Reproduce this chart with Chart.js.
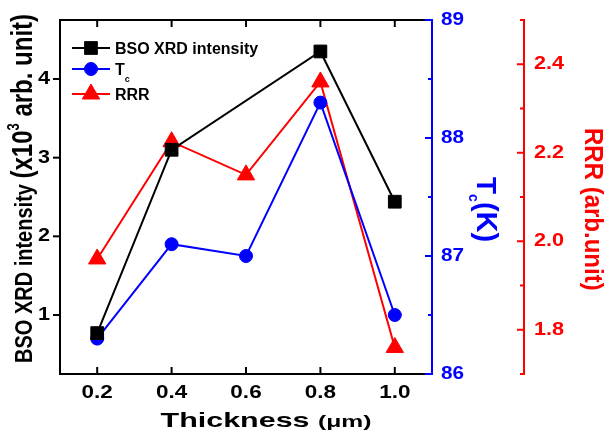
<!DOCTYPE html>
<html>
<head>
<meta charset="utf-8">
<script src="https://cdn.jsdelivr.net/npm/chart.js@4.4.0/dist/chart.umd.min.js"></script>
<style>
  html, body { margin: 0; padding: 0; background: #fff; }
</style>
</head>
<body>
<canvas id="myChart" width="609" height="436"></canvas>
<script>
// film thickness (um) and the three measured series
const thickness = [0.2, 0.4, 0.6, 0.8, 1.0];
const bsoIntensity = [0.77, 3.1, null, 4.35, 2.44];
const tcValues = [86.3, 87.1, 87.0, 88.3, 86.5];
const rrrValues = [1.96, 2.225, 2.15, 2.36, 1.76];

// tick values
const xTicks = [0.2, 0.4, 0.6, 0.8, 1.0];
const leftTicks = [1, 2, 3, 4];
const tcTicks = [86, 87, 88, 89];
const tcMinor = [86.5, 87.5, 88.5];
const rrrTicks = [1.8, 2.0, 2.2, 2.4];
const rrrMinor = [1.7, 1.9, 2.1, 2.3, 2.5];

const BLUE = "#0000ff";
const RED = "#ff0000";
const FONT = "'Liberation Sans', Arial, sans-serif";

function pts(ys) {
  return thickness.map((x, i) => ({ x: x, y: ys[i] }));
}

// draw a run of text pieces (for sub/superscripts), optionally rotated and stretched
function richText(ctx, parts, x, y, rot, sx, color, align) {
  ctx.save();
  ctx.translate(x, y);
  ctx.scale(sx, 1);
  ctx.rotate(rot);
  ctx.fillStyle = color;
  ctx.textBaseline = "alphabetic";
  ctx.textAlign = "left";
  let total = 0;
  parts.forEach(p => {
    ctx.font = "bold " + p.size + "px " + FONT;
    total += ctx.measureText(p.t).width;
  });
  let cx = 0;
  if (align === "center") cx = -total / 2;
  if (align === "right") cx = -total;
  parts.forEach(p => {
    ctx.font = "bold " + p.size + "px " + FONT;
    ctx.fillText(p.t, cx, p.dy || 0);
    cx += ctx.measureText(p.t).width;
  });
  ctx.restore();
}

function label(ctx, s, x, y, size, color, align, sx) {
  ctx.save();
  ctx.translate(x, y);
  ctx.scale(sx, 1);
  ctx.font = "bold " + size + "px " + FONT;
  ctx.fillStyle = color;
  ctx.textAlign = align;
  ctx.textBaseline = "middle";
  ctx.fillText(s, 0, 0);
  ctx.restore();
}

function line(ctx, x1, y1, x2, y2, color, w) {
  ctx.beginPath();
  ctx.strokeStyle = color;
  ctx.lineWidth = w;
  ctx.moveTo(x1, y1);
  ctx.lineTo(x2, y2);
  ctx.stroke();
}

const axesPlugin = {
  id: "axesPlugin",
  afterDraw(chart) {
    const ctx = chart.ctx;
    const a = chart.chartArea;
    const sx = chart.scales.x, sy = chart.scales.y, st = chart.scales.yTc, sr = chart.scales.yRRR;
    ctx.save();
    ctx.lineCap = "butt";

    // frame
    line(ctx, a.left, a.top, a.right, a.top, "#000", 2);
    line(ctx, a.left, a.bottom, a.right, a.bottom, "#000", 2);
    line(ctx, a.left, a.top - 1, a.left, a.bottom + 1, "#000", 2);
    line(ctx, a.right, a.top - 1, a.right, a.bottom + 1, BLUE, 2);

    // x ticks (top + bottom, inward) and labels
    xTicks.forEach(v => {
      const px = sx.getPixelForValue(v);
      line(ctx, px, a.bottom, px, a.bottom - 7, "#000", 2);
      line(ctx, px, a.top, px, a.top + 7, "#000", 2);
      label(ctx, v.toFixed(1), px, 393, 18, "#000", "center", 1.25);
    });

    // left ticks (outward)
    leftTicks.forEach(v => {
      const py = sy.getPixelForValue(v);
      line(ctx, a.left, py, a.left - 7, py, "#000", 2);
      label(ctx, String(v), 50, py, 18, "#000", "right", 1.2);
    });

    // Tc axis ticks (inward)
    tcTicks.forEach(v => {
      const py = st.getPixelForValue(v);
      line(ctx, a.right, py, a.right - 7, py, BLUE, 2);
      label(ctx, String(v), 441, py, 18, BLUE, "left", 1.15);
    });
    tcMinor.forEach(v => {
      const py = st.getPixelForValue(v);
      line(ctx, a.right, py, a.right - 4, py, BLUE, 2);
    });

    // RRR offset axis
    const rx = 524;
    line(ctx, rx, a.top - 1, rx, a.bottom + 1, RED, 2);
    rrrTicks.forEach(v => {
      const py = sr.getPixelForValue(v);
      line(ctx, rx, py, rx - 7, py, RED, 2);
      label(ctx, v.toFixed(1), 534, py, 18, RED, "left", 1.2);
    });
    rrrMinor.forEach(v => {
      const py = sr.getPixelForValue(v);
      line(ctx, rx, py, rx - 4, py, RED, 2);
    });

    // axis titles
    richText(ctx, [{ t: "Thickness ", size: 21 }, { t: "(\u03bcm)", size: 17 }],
      266, 427, 0, 1.45, "#000", "center");
    richText(ctx, [
      { t: "BSO XRD intensity ", size: 20 },
      { t: "(x10", size: 24 },
      { t: "3", size: 13, dy: -11 },
      { t: " arb. unit)", size: 24 }
    ], 32, 363, -Math.PI / 2, 1.2, "#000", "left");
    richText(ctx, [
      { t: "T", size: 28 },
      { t: "c", size: 14, dy: 8 },
      { t: "(K)", size: 29 }
    ], 477, 177, Math.PI / 2, 1.0, BLUE, "left");
    richText(ctx, [{ t: "RRR (arb.unit)", size: 24 }],
      585, 128, Math.PI / 2, 1.05, RED, "left");

    // legend
    const items = [
      { ds: chart.data.datasets[0], y: 48, parts: [{ t: "BSO XRD intensity", size: 16 }] },
      { ds: chart.data.datasets[1], y: 69, parts: [{ t: "T", size: 16 }, { t: "c", size: 9, dy: 7 }] },
      { ds: chart.data.datasets[2], y: 94, parts: [{ t: "RRR", size: 16 }] }
    ];
    items.forEach(it => {
      line(ctx, 72, it.y, 110, it.y, it.ds.borderColor, 2);
      ctx.fillStyle = it.ds.backgroundColor;
      ctx.strokeStyle = it.ds.borderColor;
      ctx.lineWidth = 1;
      Chart.helpers.drawPoint(ctx, {
        pointStyle: it.ds.pointStyle, radius: it.ds.pointRadius, rotation: 0, borderWidth: 1
      }, 91, it.y);
      richText(ctx, it.parts, 115, it.y + 6, 0, 1.0, "#000", "left");
    });

    ctx.restore();
  }
};

const config = {
  type: "line",
  data: {
    datasets: [
      {
        label: "BSO XRD intensity",
        data: pts(bsoIntensity),
        yAxisID: "y",
        borderColor: "#000000",
        backgroundColor: "#000000",
        pointStyle: "rect",
        pointRadius: 9,
        borderWidth: 2,
        pointBorderWidth: 1,
        spanGaps: true
      },
      {
        label: "Tc",
        data: pts(tcValues),
        yAxisID: "yTc",
        borderColor: BLUE,
        backgroundColor: BLUE,
        pointStyle: "circle",
        pointRadius: 6.5,
        borderWidth: 2,
        pointBorderWidth: 1
      },
      {
        label: "RRR",
        data: pts(rrrValues),
        yAxisID: "yRRR",
        borderColor: RED,
        backgroundColor: RED,
        pointStyle: "triangle",
        pointRadius: 10,
        borderWidth: 2,
        pointBorderWidth: 1
      }
    ]
  },
  options: {
    responsive: false,
    animation: false,
    devicePixelRatio: 1,
    layout: { padding: { left: 60, top: 20, right: 177, bottom: 62 } },
    plugins: { legend: { display: false }, tooltip: { enabled: false } },
    elements: { line: { tension: 0 } },
    scales: {
      x: { type: "linear", min: 0.1, max: 1.1, display: false },
      y: { type: "linear", min: 0.25, max: 4.75, display: false },
      yTc: { type: "linear", position: "right", min: 86, max: 89, display: false },
      yRRR: { type: "linear", position: "right", min: 1.7, max: 2.5, display: false }
    }
  },
  plugins: [axesPlugin]
};

let myChart = new Chart(document.getElementById("myChart"), config);
</script>
</body>
</html>
